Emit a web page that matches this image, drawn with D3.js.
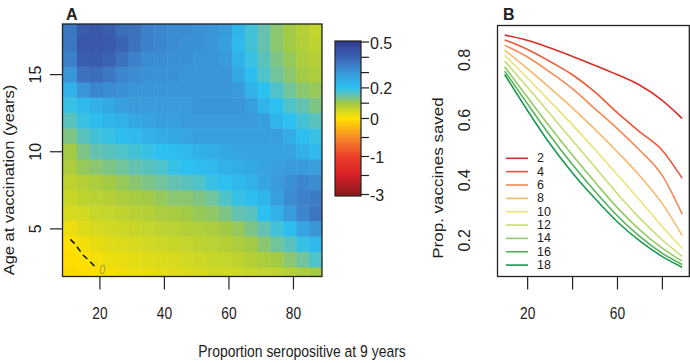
<!DOCTYPE html>
<html><head><meta charset="utf-8">
<script src="https://cdn.jsdelivr.net/npm/d3@7"></script>
<style>body{margin:0;background:#fff}svg{display:block}</style>
</head><body><svg id="c" width="690" height="363"></svg>
<script>
// ---------- DATA ----------
// Panel A: heat map (net benefit), columns = proportion seropositive at 9 years, rows = age at vaccination
const seroX = [11,15,19,23,27,31,35,39,43,47,51,55,59,63,67,71,75,79,83,87];
const ageY  = [2,3,4,5,6,7,8,9,10,11,12,13,14,15,16,17,18];
const netBenefit = [
 [-0.05,-0.025,-0.008,0.008,0.015,0.02,0.025,0.03,0.035,0.04,0.045,0.05,0.05,0.055,0.06,0.065,0.07,0.08,0.09,0.10],
 [-0.025,-0.005,0.01,0.02,0.025,0.03,0.035,0.04,0.045,0.05,0.055,0.06,0.065,0.07,0.08,0.09,0.10,0.12,0.14,0.17],
 [-0.008,0.015,0.025,0.035,0.04,0.045,0.05,0.055,0.06,0.065,0.07,0.075,0.08,0.09,0.10,0.12,0.14,0.16,0.19,0.22],
 [0.02,0.035,0.045,0.05,0.055,0.06,0.065,0.07,0.075,0.08,0.085,0.09,0.10,0.11,0.13,0.15,0.18,0.21,0.27,0.30],
 [0.045,0.05,0.06,0.065,0.07,0.075,0.08,0.09,0.095,0.10,0.11,0.115,0.13,0.15,0.16,0.20,0.24,0.29,0.33,0.36],
 [0.06,0.07,0.075,0.08,0.09,0.095,0.10,0.11,0.12,0.12,0.13,0.14,0.17,0.19,0.21,0.23,0.28,0.32,0.34,0.35],
 [0.07,0.08,0.09,0.10,0.11,0.12,0.13,0.14,0.15,0.16,0.17,0.19,0.20,0.22,0.24,0.27,0.29,0.31,0.33,0.32],
 [0.09,0.11,0.12,0.13,0.14,0.15,0.16,0.17,0.19,0.20,0.21,0.22,0.24,0.25,0.26,0.27,0.28,0.29,0.29,0.28],
 [0.10,0.13,0.15,0.16,0.17,0.18,0.19,0.20,0.21,0.22,0.24,0.25,0.26,0.27,0.27,0.27,0.27,0.27,0.24,0.22],
 [0.13,0.16,0.18,0.19,0.21,0.22,0.24,0.25,0.26,0.27,0.28,0.28,0.28,0.28,0.28,0.28,0.28,0.25,0.21,0.19],
 [0.16,0.19,0.21,0.23,0.24,0.26,0.27,0.28,0.28,0.29,0.29,0.29,0.29,0.29,0.29,0.28,0.23,0.20,0.18,0.16],
 [0.19,0.22,0.24,0.26,0.28,0.29,0.29,0.29,0.29,0.29,0.30,0.30,0.30,0.30,0.28,0.23,0.20,0.17,0.15,0.13],
 [0.24,0.30,0.33,0.32,0.31,0.30,0.30,0.30,0.30,0.30,0.30,0.30,0.30,0.29,0.24,0.20,0.17,0.14,0.12,0.11],
 [0.30,0.37,0.38,0.36,0.33,0.32,0.31,0.31,0.31,0.30,0.30,0.30,0.30,0.26,0.21,0.17,0.14,0.12,0.10,0.09],
 [0.34,0.41,0.42,0.40,0.37,0.34,0.32,0.32,0.31,0.31,0.30,0.30,0.29,0.24,0.19,0.16,0.13,0.11,0.09,0.08],
 [0.36,0.43,0.43,0.42,0.40,0.37,0.34,0.33,0.32,0.31,0.31,0.30,0.28,0.22,0.18,0.15,0.12,0.10,0.085,0.07],
 [0.36,0.42,0.43,0.41,0.38,0.37,0.34,0.33,0.32,0.32,0.31,0.30,0.29,0.23,0.18,0.15,0.12,0.10,0.08,0.065]
];
const contourLevel = [0];
const xTicksA = [20,40,60,80];
const yTicksA = [5,10,15];
const colorBreaks = [-3,-2,-1,-0.5,0,0.1,0.2,0.3,0.4,0.5];
const colorBarLabels = [0.5,0.2,0,-1,-3];

// Panel B: proportion of vaccines saved, one line per age at vaccination
const lineX   = [10,20,30,40,50,60,70,80,89];
const lineAges = [2,4,6,8,10,12,14,16,18];
const saved2  = [0.881,0.864,0.839,0.811,0.781,0.750,0.715,0.665,0.604];
const saved4  = [0.865,0.834,0.794,0.750,0.693,0.624,0.560,0.499,0.405];
const saved6  = [0.847,0.809,0.759,0.704,0.637,0.571,0.499,0.416,0.286];
const saved8  = [0.831,0.770,0.706,0.640,0.569,0.494,0.414,0.322,0.215];
const saved10 = [0.814,0.739,0.662,0.584,0.502,0.418,0.333,0.245,0.171];
const saved12 = [0.794,0.709,0.621,0.532,0.444,0.355,0.273,0.201,0.145];
const saved14 = [0.776,0.676,0.577,0.483,0.394,0.308,0.234,0.173,0.129];
const saved16 = [0.761,0.654,0.549,0.452,0.363,0.281,0.212,0.156,0.118];
const saved18 = [0.750,0.632,0.521,0.424,0.339,0.261,0.197,0.145,0.109];
const xTicksB = [20,40,60,80];
const xTickLabelsB = ["20","","60",""];
const yTicksB = [0.2,0.4,0.6,0.8];

// ---------- STYLE ----------
const SANS = "'Liberation Sans',Arial,Helvetica,sans-serif";
const SQ = 0.82; // horizontal squeeze of the original figure's text
const heatColors = ["#8b1a1e","#d71f26","#ee3f2a","#f68b28","#ffe100","#d2d922","#a2ca45","#66c2b0","#2cc1f0","#33ade6","#3a96d6","#3c7cc6","#3b63b3","#3750a4","#2e3b8e"];
const heatStops  = [-3,-2,-1,-0.5,0,0.05,0.1,0.15,0.2,0.25,0.3,0.35,0.4,0.45,0.5];
const lineColors = ["#d62f27","#e8593a","#f18a55","#f7b86e","#ece27a","#c5df74","#93cc62","#55b459","#1a9850"];
const INK = "#222";

const svg = d3.select("#c");
const color = d3.scaleLinear().domain(heatStops).range(heatColors).clamp(true);

// ---------- PANEL A ----------
const xA = d3.scaleLinear().domain([8.56, 89]).range([62.5, 322]);
const yA = d3.scaleLinear().domain([1.88, 18.25]).range([276.5, 24]);
svg.append("clipPath").attr("id","clipA").append("rect")
  .attr("x",xA.range()[0]).attr("y",yA.range()[1])
  .attr("width",xA.range()[1]-xA.range()[0]).attr("height",yA.range()[0]-yA.range()[1]);
const edge = (arr, i, dom) => [
  i === 0 ? dom[0] : (arr[i-1]+arr[i])/2,
  i === arr.length-1 ? dom[1] : (arr[i]+arr[i+1])/2 ];
const cells = [];
ageY.forEach((a, j) => seroX.forEach((s, i) => cells.push({i, j, v: netBenefit[j][i]})));
const gA = svg.append("g").attr("clip-path","url(#clipA)");
gA.selectAll("rect").data(cells).join("rect")
  .attr("x", d => xA(edge(seroX, d.i, xA.domain())[0]))
  .attr("width", d => xA(edge(seroX, d.i, xA.domain())[1]) - xA(edge(seroX, d.i, xA.domain())[0]) + 0.5)
  .attr("y", d => yA(edge(ageY, d.j, yA.domain())[1]))
  .attr("height", d => yA(edge(ageY, d.j, yA.domain())[0]) - yA(edge(ageY, d.j, yA.domain())[1]) + 0.5)
  .attr("fill", d => color(d.v));

// contour at 0 (dashed)
const nx = seroX.length, ny = ageY.length;
const flat = [];
for (let j = 0; j < ny; j++) for (let i = 0; i < nx; i++) flat.push(-netBenefit[j][i]);
const conts = d3.contours().size([nx, ny]).thresholds(contourLevel.map(v => -v))(flat);
const dxs = seroX[1]-seroX[0], dys = ageY[1]-ageY[0];
const toData = p => [seroX[0] + (p[0]-0.5)*dxs, ageY[0] + (p[1]-0.5)*dys];
const runs = [];
conts.forEach(c => c.coordinates.forEach(poly => poly.forEach(ring => {
  const inside = p => p[0] > 0 && p[0] < nx && p[1] > 0 && p[1] < ny;
  let start = ring.findIndex(p => !inside(p));
  if (start < 0) { runs.push(ring); return; }
  const r = ring.slice(start).concat(ring.slice(0, start));
  let cur = [];
  r.forEach(p => { if (inside(p)) cur.push(p); else { if (cur.length > 1) runs.push(cur); cur = []; } });
  if (cur.length > 1) runs.push(cur);
})));
const mask = svg.append("mask").attr("id","lblMask");
mask.append("rect").attr("x",0).attr("y",0).attr("width",690).attr("height",363).attr("fill","#fff");
const lblX = xA(20.9), lblY = yA(2.3);
mask.append("rect").attr("x",lblX-6).attr("y",lblY-7).attr("width",12).attr("height",14).attr("fill","#000");
const line = d3.line().x(p => xA(toData(p)[0])).y(p => yA(toData(p)[1]));
gA.append("g").attr("mask","url(#lblMask)").selectAll("path").data(runs).join("path")
  .attr("d", line).attr("fill","none").attr("stroke","#111").attr("stroke-width",1.5)
  .attr("stroke-dasharray","6,4");
svg.append("text").attr("transform",`translate(${lblX},${lblY}) scale(${SQ},1)`)
  .attr("text-anchor","middle").attr("dominant-baseline","central").attr("font-family",SANS)
  .attr("font-style","italic").attr("font-size",13).attr("fill","#9a9a40").text(String(contourLevel[0]));

svg.append("rect").attr("x",xA.range()[0]).attr("y",yA.range()[1])
  .attr("width",xA.range()[1]-xA.range()[0]).attr("height",yA.range()[0]-yA.range()[1])
  .attr("fill","none").attr("stroke",INK).attr("stroke-width",1.3);

const axA = svg.append("g").attr("transform",`translate(0,${yA.range()[0]})`)
  .call(d3.axisBottom(xA).tickValues(xTicksA).tickSize(13).tickSizeOuter(0));
axA.select(".domain").remove();
axA.selectAll("line").attr("stroke",INK).attr("stroke-width",1.2);
axA.selectAll("text").attr("y",37).attr("dy",null).attr("dominant-baseline","central")
  .attr("transform","scale(0.86,1)").attr("font-family",SANS).attr("font-size",16).attr("fill",INK);

const ayA = svg.append("g").attr("transform",`translate(${xA.range()[0]},0)`)
  .call(d3.axisLeft(yA).tickValues(yTicksA).tickSize(12.5).tickSizeOuter(0));
ayA.select(".domain").remove();
ayA.selectAll("line").attr("stroke",INK).attr("stroke-width",1.2);
ayA.selectAll("text").attr("x",null).attr("dy",null).attr("text-anchor","middle")
  .attr("transform","translate(-22,0) rotate(-90)")
  .attr("font-family",SANS).attr("font-size",16).attr("fill",INK);

svg.append("text").attr("x",66).attr("y",19.5).attr("font-family",SANS)
  .attr("font-weight","bold").attr("font-size",16).attr("fill",INK).text("A");
svg.append("text").attr("transform",`translate(13.5,180) scale(0.88,1) rotate(-90)`).attr("text-anchor","middle")
  .attr("font-family",SANS).attr("font-size",16.5).attr("fill",INK).text("Age at vaccination (years)");

// colour bar
const cbTop = 41, cbBot = 196, cbX = 335, cbW = 26;
const cbScale = d3.scaleLinear().domain(colorBreaks)
  .range(colorBreaks.map((v, i) => i <= 4 ? 194.5 - i*19 : 118.5 - (i-4)*15.3));
const cbR = cbScale.range();
const cbRows = d3.range(cbTop, cbBot);
svg.append("g").selectAll("rect").data(cbRows).join("rect")
  .attr("x",cbX).attr("width",cbW).attr("y",d=>d).attr("height",1.2)
  .attr("fill", d => color(cbScale.invert(Math.min(Math.max(d+0.5, cbR[cbR.length-1]), cbR[0]))))
  .attr("shape-rendering","crispEdges");
svg.append("rect").attr("x",cbX).attr("y",cbTop).attr("width",cbW).attr("height",cbBot-cbTop)
  .attr("fill","none").attr("stroke",INK).attr("stroke-width",1.2);
svg.append("g").selectAll("line").data(colorBreaks).join("line")
  .attr("x1",cbX+cbW).attr("x2",cbX+cbW+8).attr("y1",d=>cbScale(d)).attr("y2",d=>cbScale(d))
  .attr("stroke",INK).attr("stroke-width",1.2);
svg.append("g").selectAll("text").data(colorBarLabels).join("text")
  .attr("x",cbX+cbW+9).attr("y",d=>cbScale(d)+1).attr("dominant-baseline","central")
  .attr("font-family",SANS).attr("font-size",16).attr("fill",INK).text(d=>String(d));

// ---------- PANEL B ----------
const xB = d3.scaleLinear().domain([6.8, 92.2]).range([497.5, 689.3]);
const yB = d3.scaleLinear().domain([0.078, 0.913]).range([276.5, 25.5]);
const series = [saved2,saved4,saved6,saved8,saved10,saved12,saved14,saved16,saved18];
const lineB = d3.line().x((d,i)=>xB(lineX[i])).y(d=>yB(d)).curve(d3.curveMonotoneX);
svg.append("g").selectAll("path").data(series).join("path")
  .attr("d", lineB).attr("fill","none").attr("stroke",(d,i)=>lineColors[i]).attr("stroke-width",1.6);
svg.append("rect").attr("x",xB.range()[0]).attr("y",yB.range()[1])
  .attr("width",xB.range()[1]-xB.range()[0]).attr("height",yB.range()[0]-yB.range()[1])
  .attr("fill","none").attr("stroke",INK).attr("stroke-width",1.3);

const axB = svg.append("g").attr("transform",`translate(0,${yB.range()[0]})`)
  .call(d3.axisBottom(xB).tickValues(xTicksB).tickSize(13).tickSizeOuter(0)
    .tickFormat((d,i)=>xTickLabelsB[i]));
axB.select(".domain").remove();
axB.selectAll("line").attr("stroke",INK).attr("stroke-width",1.2);
axB.selectAll("text").attr("y",37).attr("dy",null).attr("dominant-baseline","central")
  .attr("transform","scale(0.86,1)").attr("font-family",SANS).attr("font-size",16).attr("fill",INK);

const ayB = svg.append("g").attr("transform",`translate(${xB.range()[0]},0)`)
  .call(d3.axisLeft(yB).tickValues(yTicksB).tickSize(0).tickSizeOuter(0).tickFormat(d3.format(".1f")));
ayB.select(".domain").remove();
ayB.selectAll("line").remove();
ayB.selectAll("text").attr("x",null).attr("dy",null).attr("text-anchor","middle")
  .attr("transform","translate(-28,0) rotate(-90)")
  .attr("font-family",SANS).attr("font-size",16).attr("fill",INK);

svg.append("text").attr("x",503).attr("y",20).attr("font-family",SANS)
  .attr("font-weight","bold").attr("font-size",16).attr("fill",INK).text("B");
svg.append("text").attr("transform",`translate(443,178) scale(0.88,1) rotate(-90)`).attr("text-anchor","middle")
  .attr("font-family",SANS).attr("font-size",17).attr("fill",INK).text("Prop. vaccines saved");

// legend
const lg = svg.append("g").selectAll("g").data(lineAges).join("g")
  .attr("transform",(d,i)=>`translate(506,${158.3 + i*13.35})`);
lg.append("line").attr("x1",0).attr("x2",22).attr("stroke",(d,i)=>lineColors[i]).attr("stroke-width",1.6);
lg.append("text").attr("x",31).attr("dominant-baseline","central").attr("font-family",SANS)
  .attr("font-size",12.5).attr("fill",INK).text(d=>String(d));

// shared x title
svg.append("text").attr("transform",`translate(302,357) scale(${SQ},1)`).attr("text-anchor","middle")
  .attr("font-family",SANS).attr("font-size",17).attr("fill",INK)
  .text("Proportion seropositive at 9 years");
</script></body></html>
